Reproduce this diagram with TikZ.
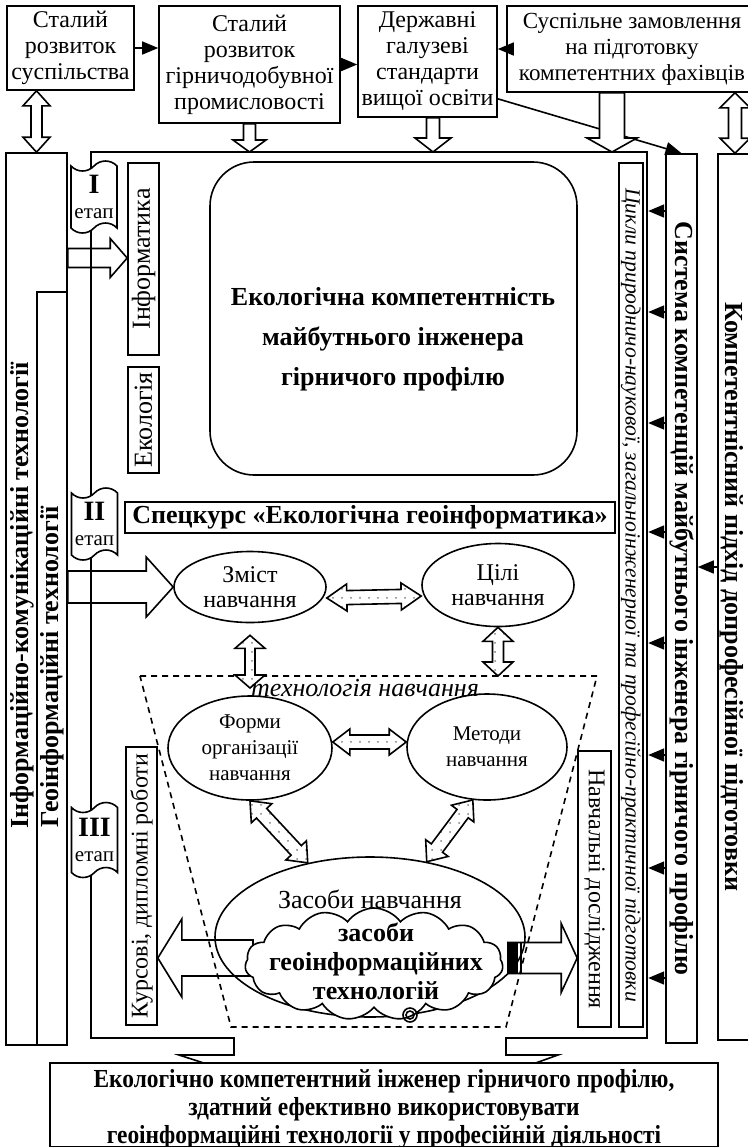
\documentclass[tikz,border=0pt]{standalone}
\usepackage{fontspec}
\setmainfont{Liberation Serif}
\usepackage{graphicx}
\usetikzlibrary{arrows.meta,calc,shapes.geometric,shapes.symbols,patterns.meta}

\newcommand\fsz[2]{\fontsize{#1}{#2}\selectfont}

% hollow block arrows: [style] {from} {to} {shaft half width} {head half width} {head length}
\newcommand\blockarr[6][]{%
  \draw[#1] let \p1=#2, \p2=#3, \n1={atan2(\y2-\y1,\x2-\x1)}, \n2={veclen(\x2-\x1,\y2-\y1)} in
    [shift={(\p1)}, rotate=\n1]
    (0pt,-#4) -- ({\n2*1pt-#6},-#4) -- ({\n2*1pt-#6},-#5) -- ({\n2*1pt},0pt)
    -- ({\n2*1pt-#6},#5) -- ({\n2*1pt-#6},#4) -- (0pt,#4) -- cycle;}
\newcommand\dblockarr[6][]{%
  \draw[#1] let \p1=#2, \p2=#3, \n1={atan2(\y2-\y1,\x2-\x1)}, \n2={veclen(\x2-\x1,\y2-\y1)} in
    [shift={(\p1)}, rotate=\n1]
    (0pt,0pt) -- (#6,#5) -- (#6,#4) -- ({\n2*1pt-#6},#4) -- ({\n2*1pt-#6},#5) -- ({\n2*1pt},0pt)
    -- ({\n2*1pt-#6},-#5) -- ({\n2*1pt-#6},-#4) -- (#6,-#4) -- (#6,-#5) -- cycle;}

\begin{document}
\begin{tikzpicture}[x=0.5pt, y=-0.5pt, line width=0.8pt,
                    >={Triangle[length=8pt,width=6.5pt]},
                    box/.style={draw, fill=white, inner sep=0pt, align=center, font=\fsz{12}{13}},
                    ell/.style={ellipse, draw, inner sep=0pt, align=center, font=\fsz{12}{12.5}},
                    etap/.style={tape, draw, fill=white, inner sep=0pt, align=center,
                                 minimum width=23pt, minimum height=36pt, font=\fsz{10.5}{12.5}},
                    dotarr/.style={preaction={fill=white}, pattern={Dots[distance=4.5pt,radius=0.5pt]},
                                   pattern color=gray}]
\useasboundingbox (0,0) rectangle (748,1147);
\clip (0,0) rectangle (748,1147);

% top row
\node[box, minimum width=63.5pt, minimum height=42pt]   (b1) at (70.5,48)    {Сталий\\розвиток\\суспільства};
\node[box, minimum width=90.5pt, minimum height=58.5pt] (b2) at (249.5,64.5) {Сталий\\розвиток\\гірничодобувної\\промисловості};
\node[box, minimum width=69.5pt, minimum height=55.5pt] (b3) at (427.5,61.5) {Державні\\галузеві\\стандарти\\вищої освіти};
\node[box, minimum width=125pt, minimum height=43pt, font=\fsz{11.5}{13}] (b4) at (632,49)
  {Суспільне замовлення\\на підготовку\\компетентних фахівців};

\draw[->] (b1.east) -- (b1.east -| b2.west);
\draw[->] (b2.east) -- (b2.east -| b3.west);
\draw[->] (b4.west) -- (b4.west -| b3.east);

% side columns
\node[box, minimum width=30.5pt, minimum height=446pt]   (ict) at (36.5,599) {};
\node[box, minimum width=15pt, minimum height=376.5pt]   (geo) at (52,668.5) {};
\node[font=\bfseries\fsz{13}{14}] (ictt) at (22,595) {\rotatebox{90}{Інформаційно-комунікаційні технології}};
\node[font=\bfseries\fsz{13}{14}] (geot) at (52,667) {\rotatebox{90}{Геоінформаційні технології}};
\node[box, minimum width=15.5pt, minimum height=444.5pt, font=\bfseries\fsz{13}{14}] (sys) at (681.5,598.5)
  {\rotatebox{-90}{Система компетенцій майбутнього інженера гірничого профілю}};
\node[box, minimum width=17pt, minimum height=443pt] (rcol) at (735,597) {};
\node[font=\bfseries\fsz{13}{14}] (rcolt) at (732,597) {\rotatebox{-90}{Компетентнісний підхід допрофесійної підготовки}};

% frame with the outlet to the result
\coordinate (ftop) at (91,152);
\draw (210,1065) -- (179,1055) -- (234,1055) -- (234,1038) -- (91,1038) -- (ftop)
      -- (647,152) -- (647,1038) -- (506,1038) -- (506,1055) -- (558,1055) -- (530,1065);
\node[box, minimum width=12pt, minimum height=432pt, font=\itshape\fsz{10.8}{12}] (cycl) at (631,595)
  {\rotatebox{-90}{Цикли природничо-наукової, загальноінженерної та професійно-практичної підготовки}};

\node[box, minimum width=334pt, minimum height=40pt, font=\bfseries\fsz{13}{14}] (res) at (384,1105)
  {\raisebox{-2.5pt}[\height][\depth]{\scalebox{0.9}[1]{\begin{tabular}{@{}c@{}}Екологічно компетентний інженер гірничого профілю,\\
   здатний ефективно використовувати\\геоінформаційні технології у професійній діяльності\end{tabular}}}};

% arrows into the frame
\dblockarr[fill=white]{(b1.south -| ict.north)}{(ict.north)}{2.75pt}{6.75pt}{7.5pt}
\blockarr[fill=white]{(b2.south)}{(b2.south |- ftop)}{3pt}{8.25pt}{6pt}
\blockarr[fill=white]{([xshift=2.75pt]b3.south)}{([xshift=2.75pt]b3.south |- ftop)}{3.25pt}{9pt}{7pt}
\draw[->] ([yshift=9.5pt]b3.south east) -- (sys.north);
\blockarr[fill=white]{([xshift=-10pt]b4.south)}{([xshift=-10pt]b4.south |- ftop)}{6.25pt}{12.5pt}{7pt}
\dblockarr[fill=white]{(rcol.north |- b4.south)}{(rcol.north)}{3.25pt}{7.5pt}{7.5pt}

\foreach \y in {211,312,423,532,643,755,868,978}
  \draw[->] (sys.west |- 0,\y) -- ++(-8.5pt,0pt);
\draw[->] (rcol.west |- 0,567) -- (sys.east |- 0,567);

% stages
\node[etap] (e1) at (94,197)   {{\bfseries\fsz{14}{14}I}\\етап};
\node[etap] (e2) at (94.5,524) {{\bfseries\fsz{14}{14}II}\\етап};
\node[etap, minimum height=37.5pt] (e3) at (94.5,840) {{\bfseries\fsz{14}{14}III}\\етап};

% stage I
\node[box, minimum width=15.5pt, minimum height=96pt, font=\fsz{13}{14}] (inf) at (143.5,259) {\rotatebox{90}{Інформатика}};
\node[box, minimum width=15.5pt, minimum height=53pt, font=\fsz{13}{14}] (eco) at (143.5,420) {\rotatebox{90}{Екологія}};
\node[box, rounded corners=22pt, minimum width=183.5pt, minimum height=156.5pt] (comp) at (393.5,318.5) {};
\node[align=center, font=\bfseries\fsz{13}{20}] (compt) at (393,339)
  {Екологічна компетентність\\майбутнього інженера\\гірничого профілю};
\blockarr{(ict.east |- 0,258)}{(inf.west |- 0,258)}{4.75pt}{9.75pt}{8.5pt}

% stage II
\node[box, minimum width=245pt, minimum height=15.5pt, font=\bfseries\fsz{13}{14}] (spec) at (370,517.5)
  {Спецкурс «Екологічна геоінформатика»};
\node[ell, minimum width=76pt, minimum height=35.5pt] (zmist) at (250,587) {Зміст\\навчання};
\node[ell, minimum width=76pt, minimum height=41.5pt] (tsili) at (498,585) {Цілі\\навчання};
\blockarr{(geo.east |- zmist.west)}{(zmist.west)}{8pt}{15pt}{13.5pt}
\dblockarr[dotarr]{([yshift=-5.5pt]zmist.east)}{([yshift=-5.5pt]tsili.west)}{3.5pt}{6.75pt}{10pt}

% technology of teaching
\coordinate (tl) at (140,676);
\coordinate (tr) at (597,676);
\coordinate (br) at (506,1027);
\coordinate (bl) at (231,1027);
\draw[dash pattern=on 3pt off 2.5pt] (tl) -- (tr) -- (br) -- (bl) -- cycle;
\dblockarr[dotarr]{([yshift=-6pt]zmist.south)}{([yshift=-6pt]zmist.south |- tl)}{2.5pt}{7.5pt}{6.5pt}
\dblockarr[dotarr]{(tsili.south)}{(tsili.south |- tl)}{2.75pt}{7.5pt}{7pt}
\node[font=\itshape\fsz{13}{14}] (tech) at (365,688) {технологія навчання};

\node[ell, minimum width=82pt, minimum height=52pt, font=\fsz{10.5}{13}] (formy) at (250,748) {Форми\\організації\\навчання};
\node[ell, minimum width=80pt, minimum height=53pt, font=\fsz{10.5}{13}] (metody) at (487,747) {Методи\\навчання};
\dblockarr[dotarr]{([yshift=3pt]formy.east)}{([yshift=3pt]formy.east -| metody.west)}{3.5pt}{6.5pt}{8.5pt}

% stage III
\node[box, minimum width=15.5pt, minimum height=139pt] (kurs) at (141.5,886) {\rotatebox{90}{Курсові, дипломні роботи}};
\node[box, minimum width=16.5pt, minimum height=138pt] (nav) at (594.5,889) {\rotatebox{-90}{Навчальні дослідження}};
\node[ell, minimum width=155pt, minimum height=80pt] (zasoby) at (370,937) {};
\dblockarr[dotarr]{(formy.south)}{(zasoby.130)}{3.5pt}{7pt}{8.5pt}
\dblockarr[dotarr]{(metody.-105)}{(zasoby.53)}{3.5pt}{7pt}{8.5pt}
\coordinate (cl) at (253,958);
\coordinate (cr) at (508,958);
\blockarr{(cl)}{(kurs.east |- cl)}{9pt}{19.5pt}{12pt}
\blockarr{(cr)}{(nav.west |- cr)}{7.75pt}{17.25pt}{8pt}
\fill ([yshift=7.75pt]cr) rectangle ++(5pt,-15.5pt);
\fill ([yshift=7.75pt,xshift=6pt]cr) rectangle ++(1.2pt,-15.5pt);
\node[cloud, draw, fill=white, cloud puffs=15, cloud puff arc=110, cloud ignores aspect, inner sep=0pt,
      minimum width=129pt, minimum height=56pt] (cloud) at (374,964) {};
\node[font=\fsz{13}{14}] (zasobyt) at (370,899) {Засоби навчання};
\node[align=center, font=\bfseries\fsz{13}{14.5}] (cloudt) at (376,961)
  {засоби\\геоінформаційних\\технологій};
\draw (410,1015) circle[radius=3.5pt] (410,1015) circle[radius=2pt];

\end{tikzpicture}
\end{document}
